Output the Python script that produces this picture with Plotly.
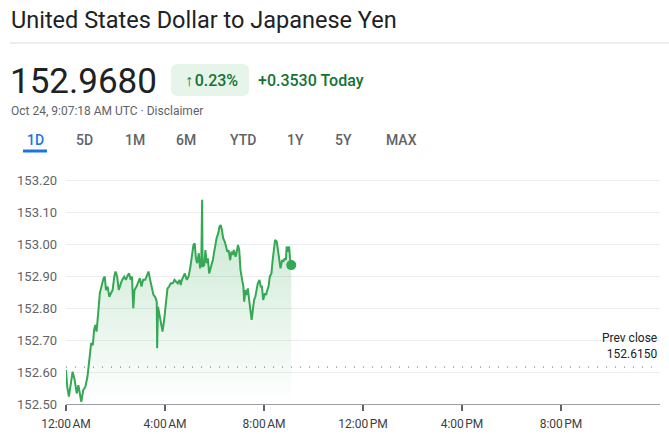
import plotly.graph_objects as go


# =====================================================
# DATA
# =====================================================

minutes = [
    0, 3, 7, 12, 16, 21, 26, 30, 34, 37, 42, 47, 52, 55, 58, 61, 65, 68, 71, 74,
    78, 82, 86, 91, 94, 97, 101, 105, 109, 113, 117, 120, 124, 128, 133, 136, 141, 145, 150, 153,
    157, 160, 163, 166, 171, 176, 179, 183, 187, 192, 196, 200, 204, 208, 212, 216, 220, 221, 223, 226,
    231, 234, 238, 242, 246, 250, 254, 259, 263, 267, 271, 275, 278, 281, 285, 288, 293, 297, 301, 305,
    309, 312, 315, 318, 322, 325, 328, 330, 331, 335, 338, 341, 344, 347, 351, 356, 360, 365, 369, 372,
    375, 378, 381, 385, 388, 391, 394, 398, 401, 404, 407, 411, 414, 417, 420, 423, 427, 430, 432, 435,
    438, 441, 444, 448, 450, 453, 456, 459, 462, 465, 469, 472, 475, 478, 482, 485, 488, 491, 494, 498,
    501, 504, 507, 511, 514, 517, 520, 524, 527, 530, 533, 535, 538, 541, 543, 546,
]

prices = [
    152.606, 152.554, 152.523, 152.565, 152.601, 152.575, 152.533, 152.559, 152.533, 152.507,
    152.544, 152.554, 152.585, 152.627, 152.658, 152.690, 152.684, 152.731, 152.747, 152.726,
    152.783, 152.846, 152.867, 152.893, 152.898, 152.856, 152.867, 152.835, 152.846, 152.856,
    152.898, 152.914, 152.898, 152.856, 152.877, 152.888, 152.898, 152.888, 152.903, 152.908,
    152.888, 152.898, 152.799, 152.856, 152.867, 152.888, 152.893, 152.867, 152.888, 152.888,
    152.903, 152.914, 152.888, 152.867, 152.841, 152.835, 152.820, 152.674, 152.804, 152.783,
    152.742, 152.726, 152.763, 152.825, 152.861, 152.867, 152.877, 152.877, 152.888, 152.882,
    152.877, 152.888, 152.872, 152.888, 152.898, 152.908, 152.888, 152.898, 152.924, 152.960,
    152.997, 153.002, 152.955, 152.940, 152.971, 152.924, 152.940, 153.138, 152.929, 152.934,
    152.981, 152.940, 152.955, 152.908, 152.929, 152.950, 152.981, 153.018, 153.033, 153.054,
    153.059, 153.044, 153.018, 153.007, 152.992, 152.976, 152.981, 152.950, 152.976, 152.966,
    152.981, 152.960, 152.976, 152.997, 152.981, 152.919, 152.888, 152.867, 152.820, 152.856,
    152.841, 152.861, 152.825, 152.789, 152.763, 152.794, 152.825, 152.835, 152.861, 152.877,
    152.888, 152.867, 152.867, 152.825, 152.846, 152.841, 152.856, 152.867, 152.898, 152.908,
    152.950, 152.981, 153.013, 153.007, 152.976, 152.950, 152.924, 152.950, 152.945, 152.955,
    152.950, 152.992, 152.976, 152.992, 152.955, 152.934,
]

prev_close = 152.6150

tick_minutes = [0, 240, 480, 720, 960, 1200]
tick_labels = ["12:00\u202fAM", "4:00\u202fAM", "8:00\u202fAM",
               "12:00\u202fPM", "4:00\u202fPM", "8:00\u202fPM"]

y_ticks = [152.5, 152.6, 152.7, 152.8, 152.9, 153.0, 153.1, 153.2]

tabs = ["1D", "5D", "1M", "6M", "YTD", "1Y", "5Y", "MAX"]
tab_x = [35, 84, 135, 186, 243, 295, 343, 401]


# =====================================================
# LAYOUT HELPERS (pixel -> paper)
# =====================================================

# body margin is removed in the page (see post_script below)
W, H = 669, 434
L, R, T, B = 66, 9, 172, 30
PW = W - L - R
PH = H - T - B

GREEN = "#34a853"
DARK_GREEN = "#137333"
GREY = "#5f6368"
FONT = "Roboto, Arial, sans-serif"


def px(x):
    return (x - L) / PW


def py(y):
    return (H - B - y) / PH


# =====================================================
# FIGURE
# =====================================================

fig = go.Figure()

# baseline for the gradient fill
fig.add_trace(go.Scatter(
    x=[minutes[0], minutes[-1]],
    y=[y_ticks[0], y_ticks[0]],
    mode="lines",
    line={"width": 0},
    hoverinfo="skip",
    showlegend=False
))

fig.add_trace(go.Scatter(
    x=minutes,
    y=prices,
    mode="lines",
    line={"color": GREEN, "width": 2},
    fill="tonexty",
    fillgradient={
        "type": "vertical",
        "start": y_ticks[0],
        "stop": max(prices),
        "colorscale": [
            [0, "rgba(52,168,83,0.0)"],
            [1, "rgba(52,168,83,0.28)"]
        ]
    },
    showlegend=False
))

# last point dot
fig.add_trace(go.Scatter(
    x=[minutes[-1]],
    y=[prices[-1]],
    mode="markers",
    marker={"color": GREEN, "size": 10},
    showlegend=False
))

# previous close dotted line
fig.add_shape(
    type="line",
    xref="x", yref="y",
    x0=0, x1=1420,
    y0=prev_close, y1=prev_close,
    line={"color": "#80868b", "width": 1.2, "dash": "1px,8px"}
)

fig.add_annotation(
    xref="paper", yref="y",
    x=px(659), y=prev_close,
    xanchor="right", yanchor="bottom",
    yshift=4,
    text="Prev close<br>152.6150",
    showarrow=False,
    align="right",
    font={"family": FONT, "size": 12, "color": "#202124"}
)

# ---------- header ----------
fig.add_annotation(
    xref="paper", yref="paper",
    x=px(9), y=py(20),
    xanchor="left", yanchor="middle",
    text="United States Dollar to Japanese Yen",
    showarrow=False,
    font={"family": FONT, "size": 23.5, "color": "#202124"}
)

fig.add_shape(
    type="line",
    xref="paper", yref="paper",
    x0=px(10), x1=px(669),
    y0=py(43), y1=py(43),
    line={"color": "#dadce0", "width": 1}
)

fig.add_annotation(
    xref="paper", yref="paper",
    x=px(8), y=py(81),
    xanchor="left", yanchor="middle",
    text="152.9680",
    showarrow=False,
    font={"family": FONT, "size": 35, "color": "#202124"}
)

# change badge with rounded corners
bx0, bx1, by0, by1, rr = 171, 249, 64, 96, 7
path = (
    f"M {px(bx0 + rr)},{py(by0)} L {px(bx1 - rr)},{py(by0)} "
    f"Q {px(bx1)},{py(by0)} {px(bx1)},{py(by0 + rr)} "
    f"L {px(bx1)},{py(by1 - rr)} "
    f"Q {px(bx1)},{py(by1)} {px(bx1 - rr)},{py(by1)} "
    f"L {px(bx0 + rr)},{py(by1)} "
    f"Q {px(bx0)},{py(by1)} {px(bx0)},{py(by1 - rr)} "
    f"L {px(bx0)},{py(by0 + rr)} "
    f"Q {px(bx0)},{py(by0)} {px(bx0 + rr)},{py(by0)} Z"
)
fig.add_shape(
    type="path",
    xref="paper", yref="paper",
    path=path,
    fillcolor="#e6f4ea",
    line={"width": 0}
)

fig.add_annotation(
    xref="paper", yref="paper",
    x=px(211), y=py(80),
    xanchor="center", yanchor="middle",
    text="\u2191\u200a0.23%",
    showarrow=False,
    font={"family": FONT, "size": 16, "color": DARK_GREEN, "weight": 500}
)

fig.add_annotation(
    xref="paper", yref="paper",
    x=px(256), y=py(80),
    xanchor="left", yanchor="middle",
    text="+0.3530 Today",
    showarrow=False,
    font={"family": FONT, "size": 16, "color": DARK_GREEN, "weight": 500}
)

fig.add_annotation(
    xref="paper", yref="paper",
    x=px(9), y=py(111),
    xanchor="left", yanchor="middle",
    text="Oct 24, 9:07:18 AM UTC \u00b7 Disclaimer",
    showarrow=False,
    font={"family": FONT, "size": 12, "color": GREY}
)

# ---------- range tabs ----------
for name, cx in zip(tabs, tab_x):
    fig.add_annotation(
        xref="paper", yref="paper",
        x=px(cx), y=py(140),
        xanchor="center", yanchor="middle",
        text=name,
        showarrow=False,
        font={"family": FONT, "size": 14, "weight": 500,
              "color": "#1a73e8" if name == "1D" else GREY}
    )

fig.add_shape(
    type="line",
    xref="paper", yref="paper",
    x0=px(23), x1=px(47),
    y0=py(151), y1=py(151),
    line={"color": "#1a73e8", "width": 3}
)

fig.update_layout(
    width=W,
    height=H,
    margin={"l": L, "r": R, "t": T, "b": B},
    paper_bgcolor="white",
    plot_bgcolor="white",
    font={"family": FONT, "color": GREY},
    xaxis={
        "range": [0, 1440],
        "tickvals": tick_minutes,
        "ticktext": tick_labels,
        "ticks": "outside",
        "ticklen": 6,
        "tickwidth": 2,
        "tickcolor": "#5f6368",
        "showline": True,
        "linecolor": "#9aa0a6",
        "linewidth": 1,
        "showgrid": False,
        "zeroline": False,
        "automargin": False,
        "ticklabelstandoff": 3,
        "tickfont": {"size": 12, "color": "#3c4043"},
    },
    yaxis={
        "range": [152.5, 153.225],
        "tickvals": y_ticks,
        "tickformat": ".2f",
        "showgrid": True,
        "gridcolor": "#eeeeee",
        "zeroline": False,
        "automargin": False,
        "ticklabelstandoff": 8,
        "tickfont": {"size": 13, "color": GREY},
    },
)

fig.write_html(
    "out.html",
    config={"displayModeBar": False},
    post_script="document.body.style.margin = '0';"
)
